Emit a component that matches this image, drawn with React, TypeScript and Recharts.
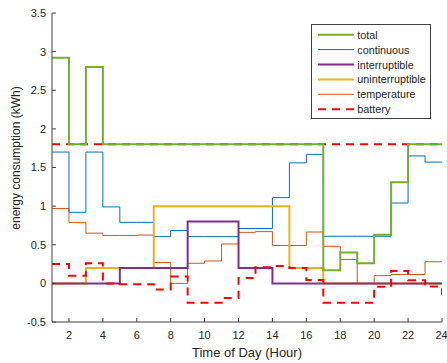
import React from "react";
import { LineChart, Line, XAxis, YAxis } from "recharts";

const hours = [1, 2, 3, 4, 5, 6, 7, 8, 9, 10, 11, 12, 13, 14, 15, 16, 17, 18, 19, 20, 21, 22, 23, 24];

const total = [2.92, 1.8, 2.8, 1.8, 1.8, 1.8, 1.8, 1.8, 1.8, 1.8, 1.8, 1.8, 1.8, 1.8, 1.8, 1.8, 0.17, 0.4, 0.26, 0.63, 1.31, 1.8, 1.8, 1.8];
const continuous = [1.7, 0.92, 1.7, 0.99, 0.79, 0.79, 0.605, 0.685, 0.605, 0.605, 0.605, 0.71, 0.71, 1.11, 1.56, 1.67, 0.61, 0.61, 0.61, 0.61, 1.04, 1.65, 1.57, 1.57];
const interruptible = [0, 0, 0, 0, 0.2, 0.2, 0.2, 0.2, 0.8, 0.8, 0.8, 0.2, 0.2, 0, 0, 0, 0, 0, 0, 0, 0, 0, 0, 0];
const uninterruptible = [0, 0, 0.2, 0.2, 0.2, 0.2, 1, 1, 1, 1, 1, 1, 1, 1, 0.2, 0.2, 0, 0, 0, 0, 0, 0, 0, 0];
const temperature = [0.97, 0.79, 0.65, 0.62, 0.62, 0.625, 0.27, 0, 0.26, 0.29, 0.51, 0.66, 0.67, 0.49, 0.49, 0.665, 0.48, 0.31, 0, 0.1, 0.115, 0.115, 0.28, 0.28];
const battery = [0.25, 0.1, 0.26, 0, -0.01, -0.01, -0.08, 0.09, -0.25, -0.25, -0.19, 0.07, 0.21, 0.225, 0.2, 0.045, -0.25, -0.25, -0.25, -0.045, 0.16, 0.04, -0.04, -0.145];
const batteryLimit = 1.8;

const xTicks = [2, 4, 6, 8, 10, 12, 14, 16, 18, 20, 22, 24];
const yTicks = [-0.5, 0, 0.5, 1, 1.5, 2, 2.5, 3, 3.5];

const green = "#77AC30";
const blue = "#0072BD";
const purple = "#7E2F8E";
const yellow = "#EDB120";
const orange = "#D95319";
const red = "#FF0000";
const axisColor = "#404040";
const textColor = "#262626";
const font = "'Liberation Sans', Arial, sans-serif";

const data = hours.map((h, i) => ({
  hour: h,
  total: total[i],
  continuous: continuous[i],
  interruptible: interruptible[i],
  uninterruptible: uninterruptible[i],
  temperature: temperature[i],
  battery: battery[i],
  limit: batteryLimit,
}));

const legendItems = [
  { name: "total", color: green, width: 2, dash: undefined },
  { name: "continuous", color: blue, width: 1, dash: undefined },
  { name: "interruptible", color: purple, width: 2, dash: undefined },
  { name: "uninterruptible", color: yellow, width: 2, dash: undefined },
  { name: "temperature", color: orange, width: 1, dash: undefined },
  { name: "battery", color: red, width: 2, dash: "8 6" },
];

const tickStyle = { fill: textColor, fontSize: 11, fontFamily: font };

function XLabel(props: any) {
  const { viewBox } = props;
  const cx = viewBox.x + viewBox.width / 2;
  return (
    <text x={cx} y={viewBox.y + 35} textAnchor="middle" fill={textColor} fontSize={13} fontFamily={font}>
      Time of Day (Hour)
    </text>
  );
}

function YLabel(props: any) {
  const { viewBox } = props;
  const x = 20;
  const y = 158;
  return (
    <text x={x} y={y} transform={`rotate(-90 ${x} ${y})`} textAnchor="middle" fill={textColor} fontSize={12} fontFamily={font}>
      energy consumption (kWh)
    </text>
  );
}

function LegendBox() {
  return (
    <svg width={121} height={96} style={{ position: "absolute", left: 311, top: 24 }}>
      <rect x={0.5} y={0.5} width={119} height={94} fill="#fff" stroke={axisColor} strokeWidth={1} />
      {legendItems.map((it, i) => {
        const y = 10.7 + i * 14.9;
        return (
          <g key={it.name}>
            <line x1={7} x2={43} y1={y} y2={y} stroke={it.color} strokeWidth={it.width} strokeDasharray={it.dash} />
            <text x={46.3} y={y} dominantBaseline="central" fill={textColor} fontSize={10.8} fontFamily={font}>
              {it.name}
            </text>
          </g>
        );
      })}
    </svg>
  );
}

export default function App() {
  return (
    <div style={{ position: "absolute", left: 0, top: 0, width: 447, height: 363, background: "#fff" }}>
      <LineChart width={447} height={363} data={data} margin={{ top: 13, right: 5, bottom: 0, left: 0 }}>
        <XAxis
          dataKey="hour"
          type="number"
          domain={[1, 24]}
          ticks={xTicks}
          height={41}
          tickSize={-4}
          tickMargin={13}
          tick={tickStyle}
          stroke={axisColor}
          allowDataOverflow
          label={<XLabel />}
        />
        <XAxis
          xAxisId="top"
          orientation="top"
          dataKey="hour"
          type="number"
          domain={[1, 24]}
          ticks={xTicks}
          height={0}
          tickSize={-4}
          tick={false}
          stroke={axisColor}
          allowDataOverflow
        />
        <YAxis
          type="number"
          domain={[-0.5, 3.5]}
          ticks={yTicks}
          width={52}
          tickSize={-4}
          tickMargin={10}
          tick={tickStyle}
          stroke={axisColor}
          allowDataOverflow
          label={<YLabel />}
        />
        <YAxis
          yAxisId="right"
          orientation="right"
          type="number"
          domain={[-0.5, 3.5]}
          ticks={yTicks}
          width={0}
          tickSize={-4}
          tick={false}
          stroke={axisColor}
          allowDataOverflow
        />
        <Line dataKey="limit" type="stepAfter" stroke={red} strokeWidth={2} strokeDasharray="8 6" dot={false} activeDot={false} isAnimationActive={false} legendType="none" />
        <Line dataKey="temperature" type="stepAfter" stroke={orange} strokeWidth={1} dot={false} activeDot={false} isAnimationActive={false} />
        <Line dataKey="continuous" type="stepAfter" stroke={blue} strokeWidth={1} dot={false} activeDot={false} isAnimationActive={false} />
        <Line dataKey="uninterruptible" type="stepAfter" stroke={yellow} strokeWidth={2} dot={false} activeDot={false} isAnimationActive={false} />
        <Line dataKey="interruptible" type="stepAfter" stroke={purple} strokeWidth={2} dot={false} activeDot={false} isAnimationActive={false} />
        <Line dataKey="total" type="stepAfter" stroke={green} strokeWidth={2} dot={false} activeDot={false} isAnimationActive={false} />
        <Line dataKey="battery" type="stepAfter" stroke={red} strokeWidth={2} strokeDasharray="8 6" dot={false} activeDot={false} isAnimationActive={false} />
      </LineChart>
      <LegendBox />
    </div>
  );
}
